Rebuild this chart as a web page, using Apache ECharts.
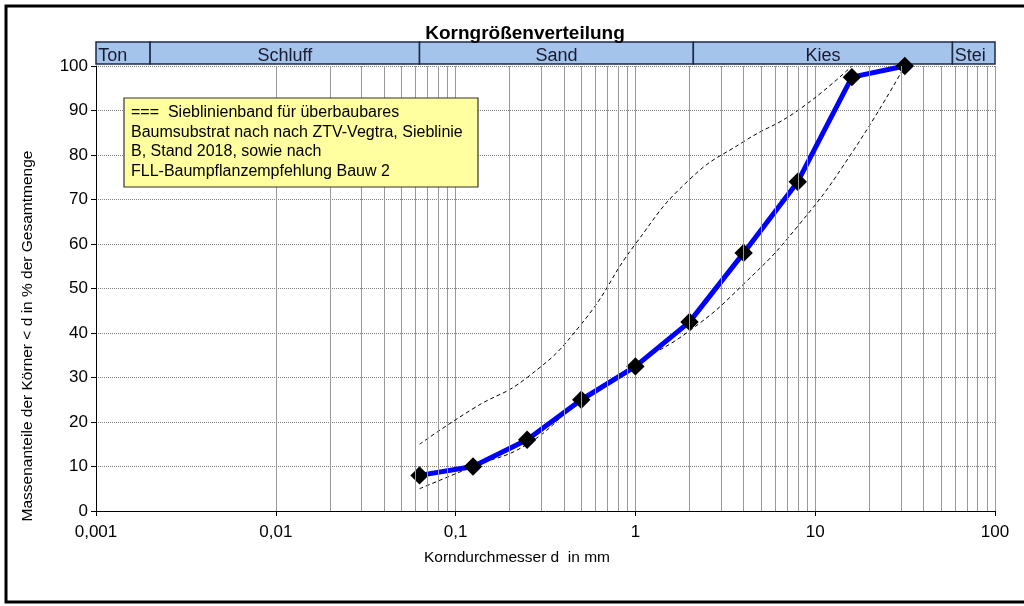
<!DOCTYPE html>
<html>
<head>
<meta charset="utf-8">
<title>Korngrößenverteilung</title>
<script src="https://cdn.jsdelivr.net/npm/echarts@6/dist/echarts.min.js"></script>
<style>
  html, body { margin: 0; padding: 0; background: #fff; }
  #chart { width: 1024px; height: 606px; }
</style>
</head>
<body>
<div id="chart"></div>
<script>
// measured sieve curve
const sieveSizes = [0.063, 0.125, 0.25, 0.5, 1, 2, 4, 8, 16, 31.5];
const passing = [8, 10, 16, 25, 32.5, 42.5, 58, 74, 97.5, 100];

// envelope (Sieblinienband)
const upperSizes = [0.063, 0.125, 0.25, 0.5, 1, 2, 4, 8, 16];
const upperValues = [15, 23, 30, 42, 60, 74.5, 83, 90, 100];
const lowerSizes = [0.063, 0.125, 0.25, 0.5, 1, 2, 4, 8, 16, 31.5];
const lowerValues = [5, 10, 15, 25, 33, 40.5, 51, 64, 80.5, 100];

// soil class header
const headerNames = ['Ton', 'Schluff', 'Sand', 'Kies', 'Stei'];
const headerBounds = [0.001, 0.002, 0.063, 2.1, 58, 100];

const yTicks = [0, 100, 10]; // min, max, step

const font = 'Arial, "Liberation Sans", sans-serif';
const narrow = '"Liberation Sans Narrow", "Arial Narrow", Arial, sans-serif';

function pairs(xs, ys) {
  return xs.map((x, i) => [x, ys[i]]);
}

// minor vertical grid lines 2..9 per decade
const minorLines = [];
for (let e = -3; e <= 1; e++) {
  for (let k = 2; k <= 9; k++) minorLines.push({ xAxis: Number((k * Math.pow(10, e)).toPrecision(3)) });
}

const chart = echarts.init(document.getElementById('chart'));

const headerLabel = (i) => {
  const edge = i === 0 || i === headerNames.length - 1;
  return {
    show: true,
    fontFamily: font,
    fontSize: 18,
    color: '#1a1a2e',
    position: edge ? 'insideBottomLeft' : 'insideBottom',
    distance: 0,
    padding: edge ? [0, 0, 0, 3] : 0,
    lineHeight: 18,
  };
};

const option = {
  animation: false,
  title: {
    text: 'Korngrößenverteilung',
    left: 520,
    top: 19,
    textAlign: 'center',
    textStyle: { fontFamily: font, fontSize: 19, fontWeight: 'bold', color: '#000' },
  },
  grid: [
    { left: 96, right: 29, top: 66, bottom: 95 },
    { left: 96, right: 29, top: 42, height: 22 },
  ],
  xAxis: [
    {
      type: 'log',
      min: 0.001,
      max: 100,
      logBase: 10,
      axisLine: { lineStyle: { color: '#000', width: 1 } },
      axisTick: { show: true, length: 5, lineStyle: { color: '#000' } },
      axisLabel: {
        fontFamily: narrow,
        fontSize: 17,
        color: '#000',
        margin: 13,
        formatter: (v) => String(Number(v.toPrecision(6))).replace('.', ','),
      },
      splitLine: { show: true, lineStyle: { color: '#999', width: 1 } },
    },
    {
      type: 'log',
      gridIndex: 1,
      min: 0.001,
      max: 100,
      show: false,
    },
  ],
  yAxis: [
    {
      type: 'value',
      min: yTicks[0],
      max: yTicks[1],
      interval: yTicks[2],
      axisLine: { show: true, lineStyle: { color: '#000', width: 1 } },
      axisTick: { show: true, length: 5, lineStyle: { color: '#000' } },
      axisLabel: { fontFamily: font, fontSize: 17, color: '#000', margin: 8 },
      splitLine: { show: true, lineStyle: { color: '#808080', width: 1, type: 'dotted' } },
    },
    {
      type: 'value',
      gridIndex: 1,
      min: 0,
      max: 1,
      show: false,
    },
  ],
  series: [
    {
      // minor grid lines
      type: 'line',
      data: [],
      silent: true,
      z: 1,
      markLine: {
        silent: true,
        symbol: ['none', 'none'],
        label: { show: false },
        lineStyle: { color: '#999', width: 1, type: 'solid' },
        data: minorLines,
      },
    },
    {
      name: 'Obergrenze',
      type: 'line',
      data: pairs(upperSizes, upperValues),
      smooth: 0.5,
      showSymbol: false,
      lineStyle: { color: '#000', width: 1, type: [4, 3] },
      z: 3,
    },
    {
      name: 'Untergrenze',
      type: 'line',
      data: pairs(lowerSizes, lowerValues),
      smooth: 0.5,
      showSymbol: false,
      lineStyle: { color: '#000', width: 1, type: [4, 3] },
      z: 3,
    },
    {
      name: 'Sieblinie',
      type: 'line',
      data: pairs(sieveSizes, passing),
      symbol: 'rect',
      symbolSize: 13,
      symbolRotate: 45,
      itemStyle: { color: '#000' },
      lineStyle: { color: '#0000ff', width: 5 },
      z: 4,
    },
    {
      // soil class header band
      type: 'line',
      xAxisIndex: 1,
      yAxisIndex: 1,
      data: [],
      silent: true,
      markArea: {
        silent: true,
        itemStyle: { color: '#a4c4ec', borderColor: '#1c2a48', borderWidth: 1.5 },
        data: headerNames.map((name, i) => [
          { name, xAxis: headerBounds[i], yAxis: 0, label: headerLabel(i) },
          { xAxis: headerBounds[i + 1], yAxis: 1 },
        ]),
      },
    },
  ],
  graphic: [
    {
      type: 'rect',
      shape: { x: 6, y: 6, width: 1030, height: 596 },
      style: { fill: 'none', stroke: '#000', lineWidth: 3 },
      silent: true,
      z: 100,
    },
    {
      type: 'rect',
      z: 50,
      shape: { x: 124, y: 98, width: 354, height: 89 },
      style: { fill: '#ffffa0', stroke: '#333', lineWidth: 1.2 },
    },
    {
      type: 'text',
      z: 51,
      x: 131,
      y: 103,
      style: {
        text: '===  Sieblinienband für überbaubares\nBaumsubstrat nach nach ZTV-Vegtra, Sieblinie\nB, Stand 2018, sowie nach\nFLL-Baumpflanzempfehlung Bauw 2',
        font: '16px ' + font,
        lineHeight: 19.5,
        fill: '#000',
      },
    },
    {
      type: 'text',
      x: 28,
      y: 336,
      rotation: Math.PI / 2,
      style: {
        text: 'Massenanteile der Körner < d in % der Gesamtmenge',
        font: '15.5px ' + font,
        fill: '#000',
        align: 'center',
        verticalAlign: 'middle',
      },
    },
    {
      type: 'text',
      x: 517,
      y: 558,
      style: {
        text: 'Korndurchmesser d  in mm',
        font: '15.5px ' + narrow,
        fill: '#000',
        align: 'center',
        verticalAlign: 'middle',
      },
    },
  ],
};

chart.setOption(option);
</script>
</body>
</html>
